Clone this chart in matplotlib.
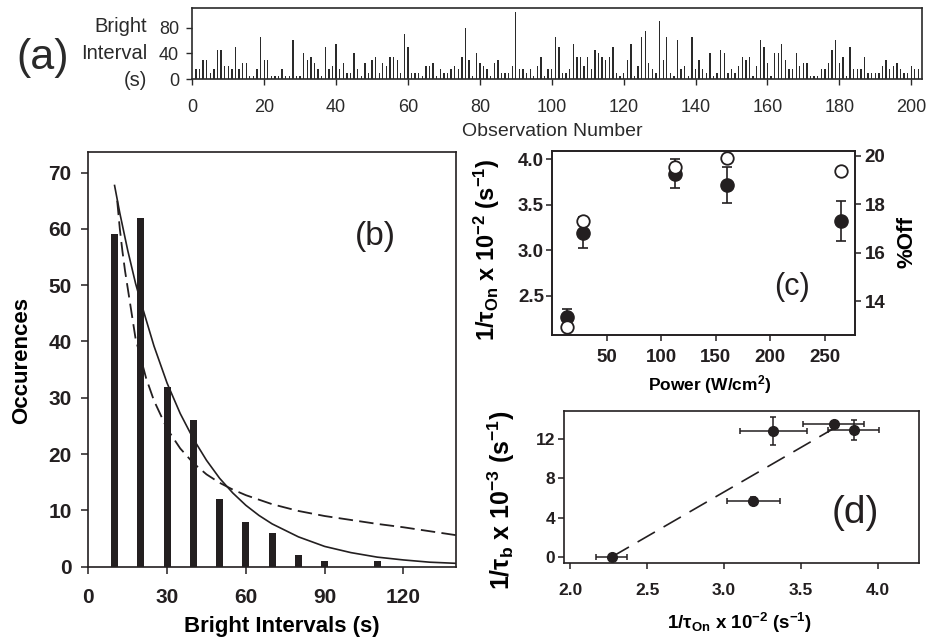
import matplotlib
matplotlib.use('Agg')
import matplotlib.pyplot as plt
import numpy as np

plt.rcParams['font.family'] = ['Liberation Sans', 'DejaVu Sans']
plt.rcParams['mathtext.fontset'] = 'custom'
plt.rcParams['mathtext.rm'] = 'Liberation Sans:bold'
plt.rcParams['mathtext.bf'] = 'Liberation Sans:bold'
plt.rcParams['mathtext.it'] = 'Liberation Sans:bold:italic'
plt.rcParams['mathtext.default'] = 'bf'
plt.rcParams['axes.unicode_minus'] = True

# ---------------- data ----------------
# (a) bright interval of each observation
obs_number = list(range(1, 203))
bright_interval = [
    15, 15, 30, 30, 10, 15, 45, 45, 20, 20,
    15, 50, 15, 25, 25, 5, 5, 15, 65, 30,
    30, 5, 5, 5, 15, 5, 5, 60, 5, 5,
    40, 30, 35, 25, 15, 5, 50, 15, 20, 55,
    15, 25, 10, 10, 40, 15, 5, 25, 10, 30,
    35, 10, 25, 20, 35, 35, 30, 10, 70, 50,
    10, 10, 10, 5, 20, 20, 25, 5, 15, 10,
    10, 15, 20, 15, 35, 80, 30, 5, 40, 25,
    20, 15, 5, 25, 30, 10, 10, 10, 20, 105,
    15, 15, 10, 15, 5, 20, 35, 5, 15, 15,
    65, 50, 10, 10, 15, 55, 35, 35, 20, 35,
    15, 45, 40, 35, 30, 35, 50, 10, 5, 10,
    30, 55, 5, 20, 65, 75, 25, 15, 10, 90,
    30, 65, 10, 5, 60, 15, 20, 5, 65, 15,
    30, 15, 10, 40, 5, 10, 45, 40, 10, 15,
    10, 20, 35, 30, 35, 5, 20, 60, 50, 25,
    5, 40, 40, 55, 30, 15, 15, 40, 20, 25,
    25, 5, 5, 5, 15, 15, 25, 45, 60, 25,
    35, 5, 50, 15, 15, 15, 35, 10, 10, 10,
    10, 20, 30, 15, 20, 25, 15, 10, 10, 20,
    15, 15,
]
a_xticks = list(range(0, 201, 20))
a_yticks = [0, 40, 80]

# (b) histogram of bright intervals and fitted curves
interval_bins = [10, 20, 30, 40, 50, 60, 70, 80, 90, 100, 110]
occurences = [59, 62, 32, 26, 12, 8, 6, 2, 1, 0, 1]
solid_fit_x = [10, 12, 15, 18, 20, 25, 30, 35, 40, 45, 50, 55, 60, 65, 70,
               80, 90, 100, 110, 120, 130, 140]
solid_fit_y = [67.7, 62.8, 56.2, 50.3, 47.0, 39.2, 32.6, 27.2, 22.7, 18.9,
               15.7, 13.1, 10.9, 9.1, 7.6, 5.3, 3.6, 2.5, 1.7, 1.2, 0.8, 0.6]
dashed_fit_x = [11, 12, 13, 14, 16, 18, 20, 22, 25, 30, 35, 40, 45, 50, 55,
                60, 70, 80, 90, 100, 110, 120, 130, 140]
dashed_fit_y = [65, 60, 56, 52.5, 46.5, 40.5, 37, 33.5, 29.5, 24.5, 21, 18.4,
                16.4, 14.9, 13.7, 12.7, 11.1, 9.9, 9.0, 8.3, 7.6, 7.0, 6.3, 5.6]
b_xticks = [0, 30, 60, 90, 120]
b_yticks = [0, 10, 20, 30, 40, 50, 60, 70]

# (c) rate and %Off vs power
power = [13.5, 28, 113, 160, 265]
rate_on = [2.27, 3.19, 3.84, 3.715, 3.32]
rate_on_err = [0.09, 0.17, 0.16, 0.20, 0.22]
pct_off = [12.94, 17.3, 19.55, 19.9, 19.37]
c_xticks = [50, 100, 150, 200, 250]
c_yticks = [2.5, 3.0, 3.5, 4.0]
c_y2ticks = [14, 16, 18, 20]

# (d) bleaching rate vs on rate
rate_on_d = [2.27, 3.19, 3.32, 3.71, 3.84]
rate_on_d_err = [0.10, 0.17, 0.22, 0.20, 0.165]
rate_b = [0.0, 5.7, 12.8, 13.5, 12.9]
rate_b_err = [0.1, 0.4, 1.4, 0.2, 1.05]
fit_d_x = [2.27, 3.78]
fit_d_y = [0.0, 13.7]
d_xticks = [2.0, 2.5, 3.0, 3.5, 4.0]
d_yticks = [0, 4, 8, 12]

# ---------------- figure ----------------
W, H = 930, 641
fig = plt.figure(figsize=(W / 100, H / 100), dpi=100)
INK = '#231f20'


def rect(l, t, r, b):
    return [l / W, 1 - b / H, (r - l) / W, (b - t) / H]


def fpt(x, y):
    return (x / W, 1 - y / H)


def style_spines(ax, lw=1.2, color=INK):
    for s in ax.spines.values():
        s.set_linewidth(lw)
        s.set_color(color)


# ---- panel (a)
axa = fig.add_axes(rect(192.3, 8.3, 922, 79))
axa.bar(obs_number, bright_interval, width=0.38, color='#2a2a2a', linewidth=0)
axa.set_xlim(0, 203)
axa.set_ylim(0, 110)
axa.set_xticks(a_xticks)
axa.set_yticks(a_yticks)
axa.tick_params(axis='both', direction='out', length=4.5, width=1, labelsize=13,
                colors='#2a2a2a')
axa.tick_params(axis='x', pad=10)
axa.tick_params(axis='y', pad=5)
style_spines(axa, 1.2, '#2a2a2a')
axa.set_xlabel('Observation Number', fontsize=14, color='#2a2a2a', va='center')
axa.xaxis.set_label_coords(*fpt(552, 131), transform=fig.transFigure)
for txt, yy in [('Bright', 26.7), ('Interval', 53.3), ('(s)', 80)]:
    fig.text(*fpt(147, yy), txt, ha='right', va='center', fontsize=14.5,
             color='#2a2a2a')
fig.text(*fpt(43, 58), '(a)', ha='center', va='center', fontsize=31,
         color='#2a2a2a')

# ---- panel (b)
axb = fig.add_axes(rect(88.3, 151.7, 456, 566.7))
axb.bar(interval_bins, occurences, width=2.6, color=INK, linewidth=0)
axb.plot(solid_fit_x, solid_fit_y, color=INK, lw=1.2)
axb.plot(dashed_fit_x, dashed_fit_y, color=INK, lw=1.3, ls=(0, (8, 3.5)))
axb.set_xlim(0, 140)
axb.set_ylim(0, 73.7)
axb.set_xticks(b_xticks)
axb.set_yticks(b_yticks)
axb.tick_params(axis='both', direction='out', length=5, width=1.1, labelsize=15,
                colors=INK)
axb.tick_params(axis='x', pad=10)
axb.tick_params(axis='y', pad=7)
for lab in axb.get_xticklabels() + axb.get_yticklabels():
    lab.set_fontweight('bold')
style_spines(axb)
axb.set_ylabel('Occurences', fontsize=16, fontweight='bold', va='center', ha='center')
axb.yaxis.set_label_coords(*fpt(21.7, 360), transform=fig.transFigure)
axb.set_xlabel('Bright Intervals (s)', fontsize=16, fontweight='bold', va='center')
axb.xaxis.set_label_coords(*fpt(281.7, 626.7), transform=fig.transFigure)
axb.text(375 / W, 1 - 236.7 / H, '(b)', transform=fig.transFigure, ha='center',
         va='center', fontsize=24, color=INK)

# ---- panel (c)
axc = fig.add_axes(rect(552.3, 151, 855, 335))
axc.errorbar(power, rate_on, yerr=rate_on_err, fmt='o', ms=9.5, color=INK,
             ecolor=INK, elinewidth=1.2, capsize=3.6, capthick=1.2)
axc.set_xlim(0, 278)
axc.set_ylim(2.07, 4.09)
axc.set_xticks(c_xticks)
axc.set_yticks(c_yticks)
axc.set_yticklabels(['%.1f' % v for v in c_yticks])
axc.tick_params(axis='both', direction='out', length=4, width=1.1, labelsize=13.5,
                colors=INK)
axc.tick_params(axis='x', pad=6)
axc.tick_params(axis='y', pad=2)
for lab in axc.get_xticklabels() + axc.get_yticklabels():
    lab.set_fontweight('bold')
style_spines(axc)
axc.set_ylabel('1/τ$_{\\mathbf{On}}$ x 10$^{\\mathbf{-2}}$ (s$^{\\mathbf{-1}}$)',
               fontsize=17, fontweight='bold', va='center', ha='center')
axc.yaxis.set_label_coords(*fpt(486.7, 250), transform=fig.transFigure)
axc.set_xlabel('Power (W/cm$^{\\mathbf{2}}$)', fontsize=12.5, fontweight='bold',
               va='center')
axc.xaxis.set_label_coords(*fpt(710, 385), transform=fig.transFigure)

axc2 = axc.twinx()
axc2.plot(power, pct_off, 'o', ms=9, mfc='white', mec=INK, mew=1.3, ls='none')
axc2.set_ylim(12.6, 20.2)
axc2.set_yticks(c_y2ticks)
axc2.tick_params(axis='y', direction='out', length=4, width=1.1, labelsize=13.5,
                 colors=INK, pad=3)
for lab in axc2.get_yticklabels():
    lab.set_fontweight('bold')
style_spines(axc2)
axc2.set_ylabel('%Off', fontsize=16, fontweight='bold', va='center', ha='center',
                rotation=90)
axc2.yaxis.set_label_coords(*fpt(906.7, 241.7), transform=fig.transFigure)
axc2.text(791.7 / W, 1 - 286.7 / H, '(c)', transform=fig.transFigure, ha='center',
          va='center', fontsize=22, color=INK)

# ---- panel (d)
axd = fig.add_axes(rect(564.3, 410.7, 919, 563.3))
axd.plot(fit_d_x, fit_d_y, color=INK, lw=1.2, ls=(0, (12, 6)))
axd.errorbar(rate_on_d, rate_b, xerr=rate_on_d_err, yerr=rate_b_err, fmt='o',
             ms=7, color=INK, ecolor=INK, elinewidth=1.1, capsize=2, capthick=1.1)
axd.set_xlim(1.963, 4.264)
axd.set_ylim(-0.64, 14.88)
axd.set_xticks(d_xticks)
axd.set_xticklabels(['%.1f' % v for v in d_xticks])
axd.set_yticks(d_yticks)
axd.tick_params(axis='both', direction='out', length=4.5, width=1.1, labelsize=12.5,
                colors=INK)
axd.tick_params(axis='x', pad=10)
axd.tick_params(axis='y', pad=2)
for lab in axd.get_xticklabels() + axd.get_yticklabels():
    lab.set_fontweight('bold')
style_spines(axd)
axd.set_ylabel('1/τ$_{\\mathbf{b}}$ x 10$^{\\mathbf{-3}}$ (s$^{\\mathbf{-1}}$)',
               fontsize=18, fontweight='bold', va='center', ha='center')
axd.yaxis.set_label_coords(*fpt(501.7, 500), transform=fig.transFigure)
axd.set_xlabel('1/τ$_{\\mathbf{On}}$ x 10$^{\\mathbf{-2}}$ (s$^{\\mathbf{-1}}$)',
               fontsize=13.5, fontweight='bold', va='center')
axd.xaxis.set_label_coords(*fpt(740, 623.3), transform=fig.transFigure)
axd.text(855 / W, 1 - 513 / H, '(d)', transform=fig.transFigure, ha='center',
         va='center', fontsize=28, color=INK)

fig.savefig('out.png', dpi=100)
